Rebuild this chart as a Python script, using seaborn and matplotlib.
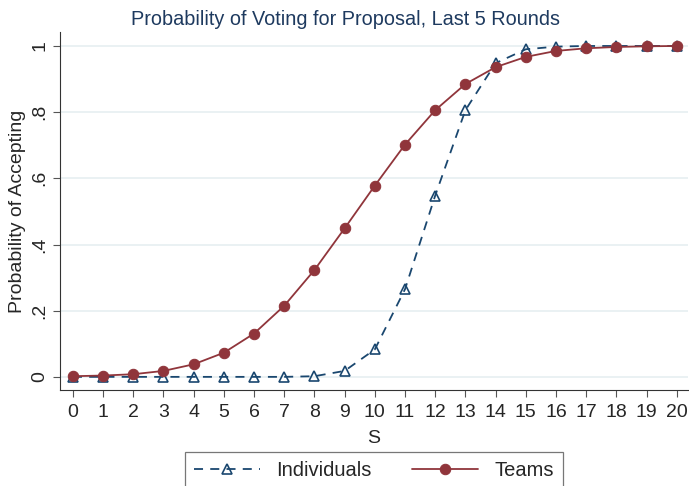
import pandas as pd
import numpy as np
import matplotlib.pyplot as plt
import seaborn as sns

s_values = list(range(21))
individuals = [0.0, 0.0, 0.0, 0.0, 0.0, 0.0, 0.0, 0.0, 0.002, 0.018, 0.083,
               0.265, 0.548, 0.806, 0.948, 0.99, 0.998, 1.0, 1.0, 1.0, 1.0]
teams = [0.002, 0.004, 0.008, 0.018, 0.038, 0.073, 0.131, 0.215, 0.323, 0.449, 0.578,
         0.702, 0.806, 0.885, 0.936, 0.967, 0.985, 0.993, 0.997, 0.999, 1.0]
y_ticks = [0, 0.2, 0.4, 0.6, 0.8, 1]
y_labels = ['0', '.2', '.4', '.6', '.8', '1']

navy = '#1a476f'
maroon = '#90353b'

sns.set_style('white')
plt.rcParams['font.family'] = ['Liberation Sans', 'DejaVu Sans']

df_ind = pd.DataFrame({'S': s_values, 'p': individuals})
df_team = pd.DataFrame({'S': s_values, 'p': teams})

fig = plt.figure(figsize=(6.89, 4.86), dpi=100)
ax = fig.add_axes([0.087, 0.198, 0.911, 0.736])

sns.lineplot(data=df_ind, x='S', y='p', ax=ax, color=navy, linestyle=(0, (5, 4)),
             linewidth=1.3, marker='^', markersize=7.5, markerfacecolor='none',
             markeredgecolor=navy, markeredgewidth=1.2, label='Individuals')
sns.lineplot(data=df_team, x='S', y='p', ax=ax, color=maroon, linewidth=1.3,
             marker='o', markersize=7.5, markeredgecolor=maroon, label='Teams')

ax.set_xlim(-0.43, 20.36)
ax.set_ylim(-0.039, 1.042)
ax.set_xticks(s_values)
ax.set_yticks(y_ticks)
ax.set_yticklabels(y_labels, rotation=90, va='center')
ax.grid(axis='y', color='#e6eff1', linewidth=1.2)
ax.set_axisbelow(True)
for side in ['top', 'right']:
    ax.spines[side].set_visible(False)
for side in ['left', 'bottom']:
    ax.spines[side].set_color('#333333')
ax.tick_params(axis='both', direction='out', length=5, width=0.8, color='#555555',
               labelsize=14, left=True, bottom=True)
ax.tick_params(axis='x', pad=5)
ax.set_xlabel('S', fontsize=14, labelpad=7)
ax.set_ylabel('Probability of Accepting', fontsize=14, labelpad=4)
ax.set_title('Probability of Voting for Proposal, Last 5 Rounds', fontsize=14.3,
             color='#1e3a5f', pad=5, x=0.455)

leg = ax.legend(loc='upper center', bbox_to_anchor=(0.5, -0.145), ncol=2,
                frameon=True, fancybox=False, edgecolor='#555555', fontsize=14.5,
                handlelength=3.3, columnspacing=2.0, borderpad=0.45)
leg.get_frame().set_linewidth(0.9)

fig.savefig('out.png', dpi=100)
